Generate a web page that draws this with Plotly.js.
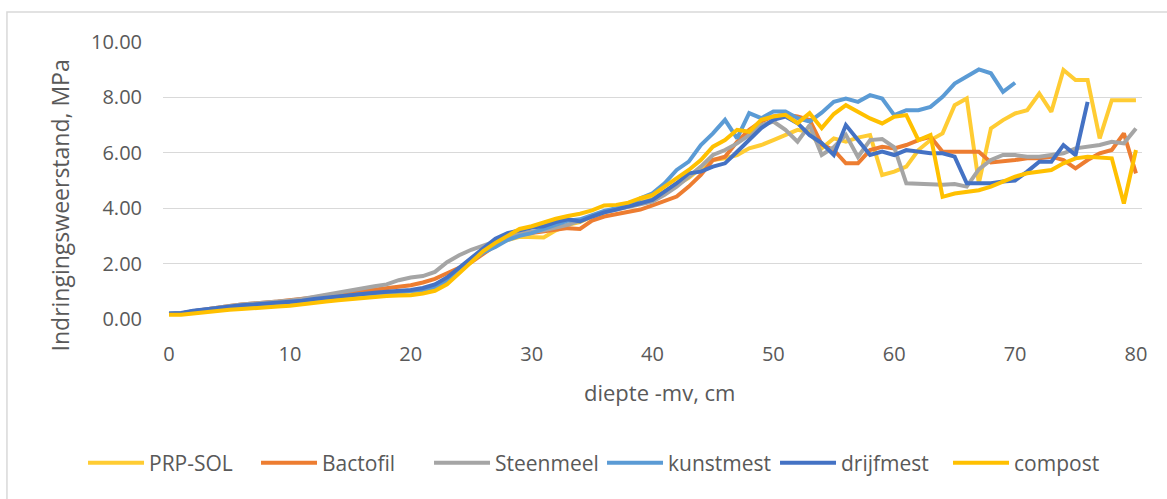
<!DOCTYPE html>
<html>
<head>
<meta charset="utf-8">
<script src="https://cdn.plot.ly/plotly-3.0.1.min.js"></script>
<style>
  html, body { margin: 0; padding: 0; background: #ffffff; }
  #chart { width: 1167px; height: 499px; }
</style>
</head>
<body>
<div id="chart"></div>
<script>
// depth (cm) categories
const depth = [0,1,2,3,4,5,6,7,8,9,10,11,12,13,14,15,16,17,18,19,20,21,22,23,24,25,26,27,28,29,30,31,32,33,34,35,36,37,38,39,40,41,42,43,44,45,46,47,48,49,50,51,52,53,54,55,56,57,58,59,60,61,62,63,64,65,66,67,68,69,70,71,72,73,74,75,76,77,78,79,80];

const prpSol = [0.18,0.2,0.26,0.32,0.38,0.42,0.45,0.48,0.5,0.53,
  0.56,0.6,0.65,0.71,0.77,0.82,0.87,0.9,0.93,0.95,
  0.97,1.02,1.12,1.35,1.75,2.1,2.42,2.68,2.85,2.97,
  2.95,2.94,3.2,3.4,3.5,3.7,3.85,4.0,4.1,4.24,
  4.35,4.6,4.85,5.1,5.45,5.74,5.8,5.92,6.16,6.28,
  6.46,6.64,6.83,6.75,6.16,6.52,6.4,6.55,6.64,5.2,
  5.32,5.5,6.1,6.46,6.7,7.72,7.96,4.9,6.88,7.18,
  7.42,7.54,8.14,7.48,8.99,8.63,8.63,6.52,7.9,7.9,
  7.9];

const bactofil = [0.18,0.2,0.28,0.35,0.42,0.47,0.52,0.57,0.6,0.63,
  0.67,0.72,0.78,0.85,0.9,0.97,1.02,1.06,1.1,1.16,
  1.22,1.32,1.45,1.65,1.85,2.05,2.35,2.65,2.9,3.05,
  3.1,3.15,3.2,3.28,3.25,3.55,3.7,3.78,3.85,3.95,
  4.1,4.25,4.42,4.78,5.2,5.74,5.86,6.4,6.83,7.13,
  7.31,7.37,7.31,7.19,6.3,6.1,5.62,5.62,6.1,6.22,
  6.16,6.28,6.46,6.58,6.04,6.04,6.04,6.04,5.65,5.68,
  5.74,5.8,5.8,5.86,5.74,5.44,5.74,5.98,6.1,6.7,
  5.26];

const steenmeel = [0.18,0.2,0.28,0.35,0.42,0.47,0.52,0.55,0.6,0.63,
  0.67,0.72,0.8,0.88,0.96,1.05,1.12,1.18,1.25,1.4,
  1.5,1.55,1.7,2.05,2.3,2.5,2.65,2.8,3.0,3.1,
  3.15,3.2,3.3,3.4,3.55,3.7,3.85,3.95,4.05,4.12,
  4.24,4.48,4.78,5.14,5.5,5.92,6.1,6.34,6.64,7.0,
  7.13,6.83,6.4,7.0,5.92,6.2,6.65,5.85,6.46,6.5,
  6.2,4.9,4.88,4.85,4.85,4.87,4.78,5.4,5.74,5.92,
  5.92,5.86,5.86,5.92,5.98,6.16,6.22,6.28,6.4,6.34,
  6.88];

const kunstmest = [0.2,0.2,0.28,0.33,0.4,0.45,0.47,0.5,0.52,0.55,
  0.58,0.62,0.68,0.74,0.8,0.85,0.9,0.92,0.95,0.98,
  1.0,1.05,1.15,1.35,1.75,2.1,2.4,2.6,2.85,3.0,
  3.1,3.25,3.4,3.55,3.6,3.75,3.9,4.0,4.1,4.36,
  4.54,4.9,5.38,5.68,6.28,6.7,7.19,6.52,7.43,7.25,
  7.49,7.49,7.25,7.13,7.45,7.84,7.96,7.84,8.08,7.96,
  7.36,7.54,7.54,7.66,8.02,8.5,8.75,9.01,8.87,8.2,
  8.53];

const drijfmest = [0.2,0.22,0.3,0.35,0.42,0.46,0.5,0.52,0.55,0.58,
  0.62,0.66,0.72,0.77,0.82,0.88,0.92,0.95,0.98,1.0,
  1.05,1.12,1.25,1.5,1.85,2.2,2.55,2.9,3.1,3.2,
  3.3,3.35,3.5,3.6,3.52,3.7,3.85,3.95,4.05,4.18,
  4.3,4.6,4.9,5.26,5.32,5.5,5.62,6.04,6.46,6.89,
  7.19,7.31,7.07,6.64,6.35,5.92,7.0,6.46,5.92,6.04,
  5.92,6.1,6.04,5.98,5.98,5.86,4.9,4.9,4.9,4.96,
  5.0,5.32,5.68,5.68,6.28,5.92,7.84];

const compost = [0.15,0.15,0.2,0.25,0.3,0.33,0.36,0.38,0.42,0.45,
  0.48,0.52,0.57,0.63,0.68,0.72,0.77,0.8,0.83,0.85,
  0.86,0.92,1.02,1.25,1.65,2.05,2.45,2.75,3.0,3.25,
  3.35,3.5,3.62,3.72,3.8,3.92,4.1,4.12,4.2,4.36,
  4.48,4.78,5.08,5.38,5.74,6.22,6.46,6.83,6.76,7.19,
  7.31,7.37,7.07,7.43,6.89,7.4,7.72,7.48,7.24,7.06,
  7.3,7.36,6.46,6.64,4.41,4.53,4.6,4.65,4.78,4.96,
  5.14,5.26,5.32,5.38,5.62,5.8,5.86,5.83,5.8,4.17,
  6.1];

const seriesNames = ["PRP-SOL","Bactofil","Steenmeel","kunstmest","drijfmest","compost"];
const seriesValues = [prpSol, bactofil, steenmeel, kunstmest, drijfmest, compost];
const seriesColors = ["#FFCC33","#ED7D31","#A5A5A5","#5B9BD5","#4472C4","#FFC000"];

const xTickVals = [0,10,20,30,40,50,60,70,80];
const xTickText = ["0","10","20","30","40","50","60","70","80"];
const yTickVals = [0,2,4,6,8,10];

const textColor = "#595959";
const fontFam = "'Open Sans', 'DejaVu Sans', sans-serif";

const traces = seriesNames.map((name, i) => ({
  type: "scatter",
  mode: "lines",
  name: name,
  x: depth.slice(0, seriesValues[i].length),
  y: seriesValues[i],
  line: { color: seriesColors[i], width: 4, shape: "linear" },
  hoverinfo: "x+y+name"
}));

const layout = {
  width: 1167,
  height: 499,
  margin: { l: 163, r: 25, t: 42, b: 180, pad: 0 },
  paper_bgcolor: "#ffffff",
  plot_bgcolor: "#ffffff",
  font: { family: fontFam, color: textColor, size: 20 },
  showlegend: true,
  legend: {
    orientation: "h",
    x: -0.0817, xanchor: "left",
    y: -0.52, yanchor: "middle",
    font: { family: fontFam, size: 21, color: textColor },
    bgcolor: "rgba(0,0,0,0)",
    itemwidth: 56,
    entrywidth: 102,
    entrywidthmode: "pixels",
    traceorder: "normal"
  },
  xaxis: {
    range: [-0.5, 80.5],
    tickmode: "array",
    tickvals: xTickVals,
    ticktext: xTickText,
    showgrid: false,
    zeroline: false,
    showline: false,
    ticks: "",
    ticklabelstandoff: 21,
    tickfont: { family: fontFam, size: 20, color: textColor },
    fixedrange: true
  },
  yaxis: {
    range: [0, 10],
    tickmode: "array",
    tickvals: yTickVals,
    tickformat: ".2f",
    showgrid: true,
    gridcolor: "#D9D9D9",
    gridwidth: 1.3,
    zeroline: false,
    showline: false,
    ticks: "",
    ticklabelstandoff: 20,
    tickfont: { family: fontFam, size: 20, color: textColor },
    fixedrange: true
  },
  annotations: [
    {
      text: "Indringingsweerstand, MPa",
      xref: "paper", yref: "paper",
      x: -0.1052, y: 0.41,
      xanchor: "center", yanchor: "middle",
      textangle: -90,
      showarrow: false,
      font: { family: fontFam, size: 23, color: textColor }
    },
    {
      text: "diepte -mv, cm",
      xref: "paper", yref: "paper",
      x: 0.5077, y: -0.2635,
      xanchor: "center", yanchor: "middle",
      showarrow: false,
      font: { family: fontFam, size: 22, color: textColor }
    }
  ],
  shapes: [
    {
      type: "rect", xref: "paper", yref: "paper",
      x0: -0.1594, x1: 1.06, y0: -0.75, y1: 1.108,
      line: { color: "#D9D9D9", width: 1.5 },
      fillcolor: "rgba(0,0,0,0)",
      layer: "below"
    }
  ]
};

Plotly.newPlot("chart", traces, layout, { displayModeBar: false, staticPlot: true });
</script>
</body>
</html>
